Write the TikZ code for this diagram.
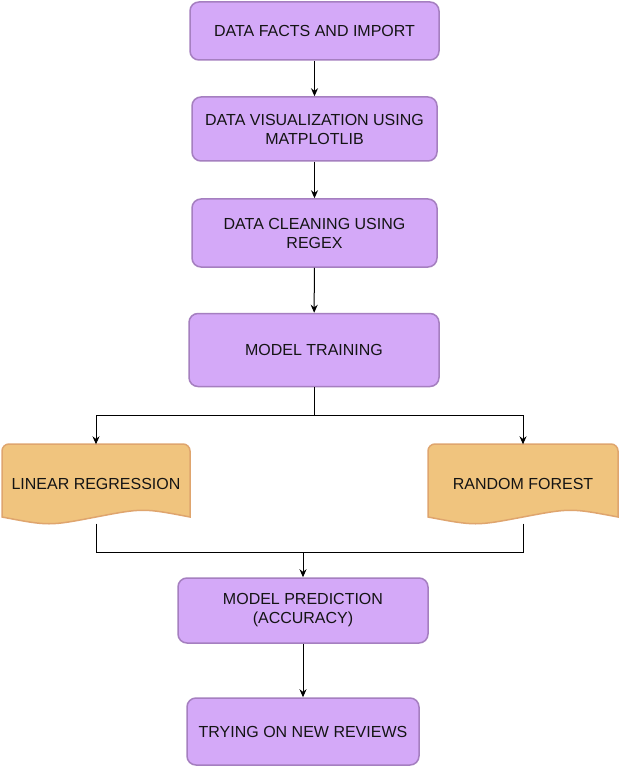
\documentclass[tikz,border=0pt]{standalone}
\usepackage{fontspec}
\setmainfont{Liberation Sans}
\usetikzlibrary{arrows.meta}
\definecolor{pfill}{HTML}{D4A9F8}
\definecolor{pdraw}{HTML}{A57FC0}
\definecolor{ofill}{HTML}{F0C47E}
\definecolor{odraw}{HTML}{DFA56E}
\definecolor{txt}{HTML}{141414}
\begin{document}
\begin{tikzpicture}[x=1pt,y=-1pt,
  pbox/.style={draw=pdraw,fill=pfill,line width=1.5pt,rounded corners=9pt,
    font=\fontsize{16}{19}\selectfont,text=txt,align=center,inner sep=0pt},
  dlabel/.style={font=\fontsize{16}{19}\selectfont,text=txt,align=center,inner sep=0pt},
  docshape/.style={draw=odraw,fill=ofill,line width=1.5pt},
  conn/.style={line width=1pt,draw=black},
  arr/.style={conn,-{Stealth[length=8pt,width=7pt]}}]
\useasboundingbox (0,0) rectangle (621,767);
\fill[white] (0,0) rectangle (621,767);

% purple boxes
\node[pbox,minimum width=249pt,minimum height=58pt] (a) at (314.5,31) {DATA FACTS AND IMPORT};
\node[pbox,minimum width=245pt,minimum height=64pt] (b) at (314.5,129) {DATA VISUALIZATION USING\\MATPLOTLIB};
\node[pbox,minimum width=245pt,minimum height=68pt] (c) at (314.5,233) {DATA CLEANING USING\\REGEX};
\node[pbox,minimum width=250pt,minimum height=73pt] (d) at (314,350) {MODEL TRAINING};
\node[pbox,minimum width=250pt,minimum height=65pt] (g) at (303,610.5) {MODEL PREDICTION\\(ACCURACY)};
\node[pbox,minimum width=232pt,minimum height=67pt] (h) at (303,731.5) {TRYING ON NEW REVIEWS};

% document shapes
\draw[docshape,rounded corners=7pt] (2,517) -- (2,444) -- (190,444) [sharp corners] -- (190,517)
  .. controls (143,508) .. (96,517) .. controls (49,526) .. (2,517) -- cycle;
\draw[docshape,rounded corners=7pt] (428,517) -- (428,444) -- (618,444) [sharp corners] -- (618,517)
  .. controls (570.5,508) .. (523,517) .. controls (475.5,526) .. (428,517) -- cycle;
\node[dlabel,minimum width=188pt,minimum height=79pt] (e) at (96,484) {LINEAR REGRESSION};
\node[dlabel,minimum width=190pt,minimum height=79pt] (f) at (523,484) {RANDOM FOREST};

% connectors
\draw[arr] (a) -- (b);
\draw[arr] (b) -- (c);
\draw[arr] (c) -- (d);
\coordinate (split) at (314,415);
\draw[conn] (d) -- (split);
\draw[arr] (split) -| (e.north);
\draw[arr] (split) -| (f.north);
\coordinate (join) at (303,552);
\draw[conn] (e.south) |- (join);
\draw[conn] (f.south) |- (join);
\draw[arr] (join) -- (g);
\draw[arr] (g) -- (h);
\end{tikzpicture}
\end{document}
